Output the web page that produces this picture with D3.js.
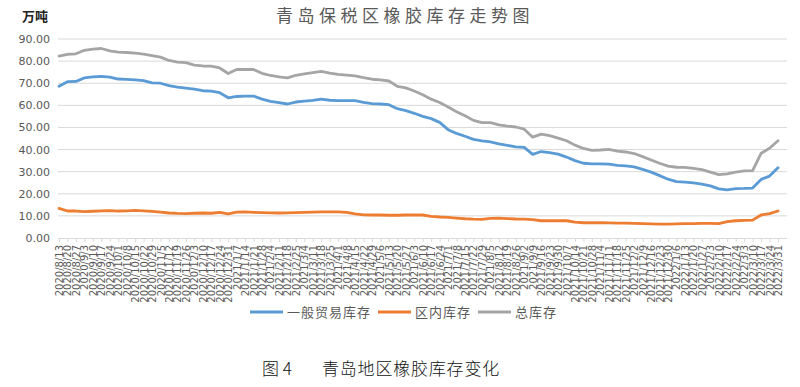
<!DOCTYPE html>
<html>
<head>
<meta charset="utf-8">
<script src="https://cdn.jsdelivr.net/npm/d3@7"></script>
<style>
body { margin: 0; background: #fff; }
svg { display: block; }
</style>
</head>
<body>
<svg id="chart" width="800" height="387"></svg>
<script>
// weekly dates (x categories)
var dates = [
	'2020/8/13','2020/8/20','2020/8/27','2020/9/3','2020/9/10','2020/9/17','2020/9/24','2020/10/1','2020/10/8','2020/10/15',
	'2020/10/22','2020/10/29','2020/11/5','2020/11/12','2020/11/19','2020/11/26','2020/12/3','2020/12/10','2020/12/17','2020/12/24',
	'2020/12/31','2021/1/7','2021/1/14','2021/1/21','2021/1/28','2021/2/4','2021/2/11','2021/2/18','2021/2/25','2021/3/4',
	'2021/3/11','2021/3/18','2021/3/25','2021/4/1','2021/4/8','2021/4/15','2021/4/22','2021/4/29','2021/5/6','2021/5/13',
	'2021/5/20','2021/5/27','2021/6/3','2021/6/10','2021/6/17','2021/6/24','2021/7/1','2021/7/8','2021/7/15','2021/7/22',
	'2021/7/29','2021/8/5','2021/8/12','2021/8/19','2021/8/26','2021/9/2','2021/9/9','2021/9/16','2021/9/23','2021/9/30',
	'2021/10/7','2021/10/14','2021/10/21','2021/10/28','2021/11/4','2021/11/11','2021/11/18','2021/11/25','2021/12/2','2021/12/9',
	'2021/12/16','2021/12/23','2021/12/30','2022/1/6','2022/1/13','2022/1/20','2022/1/27','2022/2/3','2022/2/10','2022/2/17',
	'2022/2/24','2022/3/3','2022/3/10','2022/3/17','2022/3/24','2022/3/31'
];

// 一般贸易库存
var general = [
	68.6,70.7,70.8,72.4,72.9,73.1,72.8,71.9,71.7,71.5,
	71.2,70.2,70.0,68.9,68.2,67.8,67.3,66.6,66.4,65.7,
	63.4,64.0,64.2,64.2,62.8,61.8,61.2,60.6,61.5,61.9,
	62.2,62.8,62.3,62.1,62.1,62.1,61.3,60.8,60.6,60.3,
	58.5,57.6,56.4,55.0,54.0,52.3,49.0,47.3,46.0,44.6,
	43.9,43.5,42.6,41.9,41.2,41.0,37.8,39.1,38.6,37.9,
	36.6,35.0,33.8,33.5,33.5,33.4,32.8,32.6,32.2,31.0,
	29.8,28.2,26.6,25.5,25.3,24.9,24.4,23.6,22.2,21.8,
	22.3,22.4,22.6,26.5,28.0,31.8
];

// 区内库存
var bonded = [
	13.4,12.2,12.2,11.9,12.1,12.3,12.4,12.2,12.3,12.5,
	12.3,12.0,11.7,11.3,11.1,11.0,11.2,11.3,11.2,11.6,
	10.9,11.7,11.8,11.6,11.5,11.4,11.3,11.4,11.5,11.6,
	11.7,11.8,11.8,11.8,11.6,10.9,10.5,10.4,10.4,10.3,
	10.3,10.4,10.4,10.4,9.8,9.5,9.3,9.0,8.7,8.5,
	8.4,8.9,9.0,8.8,8.6,8.5,8.3,7.8,7.8,7.8,
	7.8,7.2,6.9,6.9,6.9,6.8,6.7,6.7,6.6,6.5,
	6.4,6.3,6.3,6.4,6.5,6.5,6.6,6.6,6.5,7.4,
	7.8,8.0,8.1,10.4,11.0,12.2
];

// 总库存
var total = [
	82.3,83.1,83.3,84.9,85.4,85.7,84.6,84.1,83.9,83.6,
	83.2,82.5,81.8,80.3,79.5,79.3,78.2,77.8,77.7,76.9,
	74.4,76.2,76.3,76.2,74.5,73.5,72.9,72.4,73.6,74.2,
	74.8,75.4,74.6,74.0,73.7,73.3,72.5,71.8,71.5,71.0,
	68.6,67.9,66.5,64.8,62.8,61.3,59.2,57.1,55.3,53.2,
	52.2,52.2,51.2,50.6,50.2,49.2,45.6,47.0,46.3,45.2,
	44.0,42.0,40.5,39.6,39.8,40.1,39.3,38.9,38.2,36.8,
	35.3,33.8,32.5,32.0,31.9,31.5,30.9,29.8,28.7,29.0,
	29.8,30.4,30.5,38.3,40.6,44.0
];

var yTicks = [0, 10, 20, 30, 40, 50, 60, 70, 80, 90];

var seriesNames = ['一般贸易库存', '区内库存', '总库存'];
var seriesColors = ['#5B9BD5', '#ED7D31', '#A5A5A5'];

var svg = d3.select('#chart');
var plotLeft = 58, plotRight = 787, plotTop = 39, plotBottom = 238;

var x = d3.scalePoint().domain(dates).range([59, 778]);
var y = d3.scaleLinear().domain([0, 90]).range([plotBottom, plotTop]);

// title
svg.append('text')
	.attr('x', 405)
	.attr('y', 22)
	.attr('text-anchor', 'middle')
	.style('font-family', '"Noto Sans CJK SC", sans-serif')
	.style('font-size', '17px')
	.style('letter-spacing', '4.5px')
	.attr('fill', '#595959')
	.text('青岛保税区橡胶库存走势图');

// unit
svg.append('text')
	.attr('x', 22)
	.attr('y', 21)
	.style('font-family', '"Noto Sans CJK SC", sans-serif')
	.style('font-size', '13px')
	.style('font-weight', 'bold')
	.attr('fill', '#222')
	.text('万吨');

// gridlines
svg.append('g').selectAll('line')
	.data(yTicks.slice(1))
	.enter()
	.append('line')
	.attr('x1', plotLeft)
	.attr('x2', plotRight)
	.attr('y1', function(d) {return y(d);})
	.attr('y2', function(d) {return y(d);})
	.attr('stroke', '#d9d9d9')
	.attr('stroke-width', 1);

// y axis labels
var yAxis = d3.axisLeft(y)
	.tickValues(yTicks)
	.tickFormat(d3.format('.2f'))
	.tickSize(0)
	.tickPadding(2);
var gy = svg.append('g').attr('transform', 'translate(52,0)').call(yAxis);
gy.select('.domain').remove();
gy.selectAll('text')
	.style('font-family', '"DejaVu Sans", sans-serif')
	.style('font-size', '11px')
	.attr('fill', '#595959');

// x axis
var xAxis = d3.axisBottom(x).tickSize(4).tickSizeOuter(0);
var gx = svg.append('g').attr('transform', 'translate(0,' + plotBottom + ')').call(xAxis);
gx.select('.domain')
	.attr('d', 'M' + plotLeft + ',0.5H' + plotRight)
	.attr('stroke', '#d9d9d9');
gx.selectAll('.tick line').attr('stroke', '#d9d9d9');
gx.selectAll('text')
	.attr('y', 0)
	.attr('x', -7)
	.attr('dy', '0.35em')
	.attr('transform', 'rotate(-90)')
	.style('text-anchor', 'end')
	.style('font-family', '"DejaVu Sans", sans-serif')
	.style('font-size', '10px')
	.attr('fill', '#595959');

// lines
var line = d3.line()
	.x(function(d, i) {return x(dates[i]);})
	.y(function(d) {return y(d);});

var allSeries = [general, bonded, total];
svg.append('g').selectAll('path')
	.data(allSeries)
	.enter()
	.append('path')
	.attr('d', function(d) {return line(d);})
	.attr('fill', 'none')
	.attr('stroke', function(d, i) {return seriesColors[i];})
	.attr('stroke-width', 2.8)
	.attr('stroke-linejoin', 'round')
	.attr('stroke-linecap', 'round');

// legend
var legendX = [250, 378, 478];
var lg = svg.append('g').selectAll('g')
	.data(seriesNames)
	.enter()
	.append('g')
	.attr('transform', function(d, i) {return 'translate(' + legendX[i] + ',312)';});
lg.append('line')
	.attr('x1', 0).attr('x2', 33)
	.attr('y1', 0).attr('y2', 0)
	.attr('stroke', function(d, i) {return seriesColors[i];})
	.attr('stroke-width', 3);
lg.append('text')
	.attr('x', 37)
	.attr('y', 5)
	.style('font-family', '"Noto Sans CJK SC", sans-serif')
	.style('font-size', '13px')
	.style('letter-spacing', '1px')
	.attr('fill', '#595959')
	.text(function(d) {return d;});

// caption
svg.append('text')
	.attr('x', 262)
	.attr('y', 375)
	.style('font-family', '"Noto Sans CJK SC", sans-serif')
	.style('font-size', '17px')
	.style('font-weight', 300)
	.attr('fill', '#111')
	.text('图 4');
svg.append('text')
	.attr('x', 322)
	.attr('y', 375)
	.style('font-family', '"Noto Sans CJK SC", sans-serif')
	.style('font-size', '17px')
	.style('font-weight', 300)
	.style('letter-spacing', '0.8px')
	.attr('fill', '#111')
	.text('青岛地区橡胶库存变化');
</script>
</body>
</html>
